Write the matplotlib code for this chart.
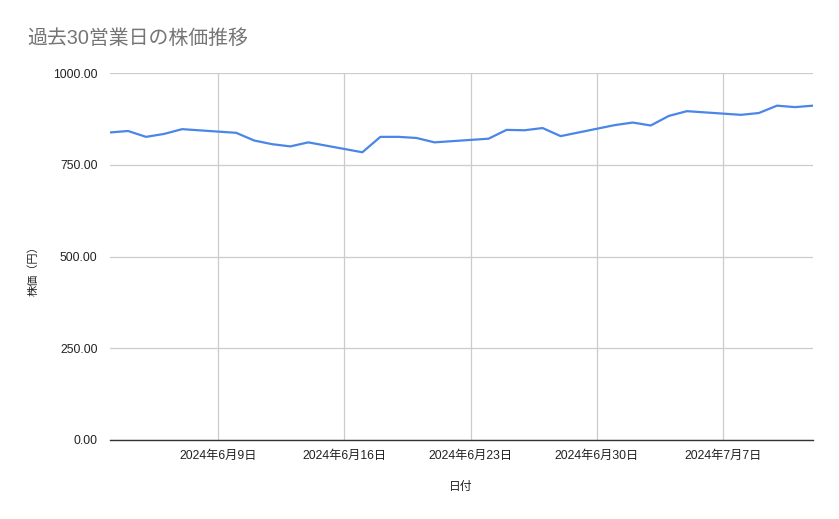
import pandas as pd
import matplotlib.pyplot as plt
from matplotlib.ticker import FuncFormatter

plt.rcParams['font.family'] = ['Liberation Sans', 'Noto Sans CJK JP', 'DejaVu Sans']

# 営業日ごとの株価 (2024/6/3 - 2024/7/12)
dates = pd.bdate_range("2024-06-03", "2024-07-12")
prices = [838, 842, 826, 834, 847,
          837, 816, 806, 800, 811,
          784, 826, 826, 823, 811,
          821, 845, 844, 850, 828,
          858, 865, 857, 883, 896,
          886, 891, 911, 907, 911]
tick_dates = pd.to_datetime(["2024-06-09", "2024-06-16", "2024-06-23", "2024-06-30", "2024-07-07"])
tick_labels = [f"{d.year}年{d.month}月{d.day}日" for d in tick_dates]
y_ticks = [0, 250, 500, 750, 1000]

fig = plt.figure(figsize=(8.39, 5.19), dpi=100)
ax = fig.add_axes([110/839, 1 - 440/519, (813 - 110)/839, (440 - 73)/519])

ax.plot(dates, prices, color='#4a86e8', linewidth=1.6, solid_joinstyle='round')

ax.set_xlim(dates[0], dates[-1])
ax.set_ylim(0, 1000)
ax.set_yticks(y_ticks)
ax.yaxis.set_major_formatter(FuncFormatter(lambda v, p: f"{v:.2f}"))
ax.set_xticks(tick_dates)
ax.set_xticklabels(tick_labels)

ax.grid(True, color='#cccccc', linewidth=0.9)
ax.set_axisbelow(True)
for s in ['top', 'right', 'left']:
    ax.spines[s].set_visible(False)
ax.spines['bottom'].set_color('#333333')
ax.spines['bottom'].set_linewidth(1.0)
ax.tick_params(axis='both', length=0, labelsize=8.8, colors='#222222')
ax.tick_params(axis='y', pad=9)
ax.tick_params(axis='x', pad=7)

fig.text(27/839, 1 - 38/519, "過去30営業日の株価推移", fontsize=14.3, color='#757575', va='center', ha='left')
fig.text(461/839, 1 - 487/519, "日付", fontsize=8.5, color='#222222', ha='center', va='center')
fig.text(33/839, 1 - 268/519, "株価（円）", fontsize=8, color='#222222', ha='center', va='center', rotation=90)

fig.savefig("out.png", dpi=100)
